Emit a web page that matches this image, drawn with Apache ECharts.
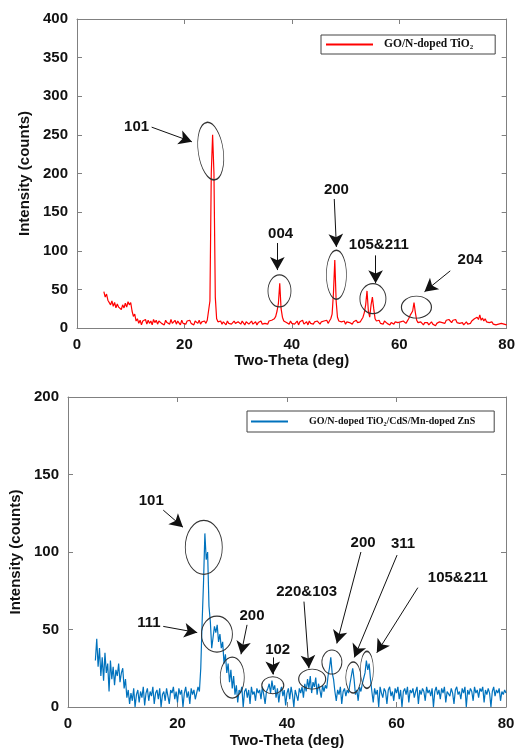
<!DOCTYPE html>
<html>
<head>
<meta charset="utf-8">
<script src="https://cdn.jsdelivr.net/npm/echarts@6/dist/echarts.min.js"></script>
<style>
html,body{margin:0;padding:0;background:#fff;}
#c{width:518px;height:750px;}
</style>
</head>
<body>
<div id="c"></div>
<script>
// ---- Data (2θ scan grid: start 5°, step 0.25°) ----
const twoThetaStart = 5;
const twoThetaStep = 0.25;
const xTicks = [0, 20, 40, 60, 80];
const yTicksTop = [0, 50, 100, 150, 200, 250, 300, 350, 400];
const yTicksBottom = [0, 50, 100, 150, 200];

const seriesNameTop = 'GO/N-doped TiO\u2082';
const seriesNameBottom = 'GO/N-doped TiO\u2082/CdS/Mn-doped ZnS';

const intensityTiO2 = [
  47, 40, 44, 36, 38, 30, 35, 28, 33, 26, 31, 27, 29, 24, 30, 26, 32, 27, 34, 30,
  33, 22, 15, 18, 9, 12, 6, 10, 4, 9, 7, 11, 5, 10, 6, 9, 4, 11, 7, 10,
  5, 9, 11, 6, 8, 4, 10, 7, 9, 5, 11, 6, 8, 10, 5, 9, 7, 4, 10, 6,
  8, 5, 9, 7, 10, 6, 8, 4, 9, 7, 6, 10, 5, 8, 7, 9, 6, 10, 8, 35,
  200, 250, 200, 40, 12, 8, 6, 9, 5, 8, 7, 4, 9, 6, 8, 5, 7, 9, 6, 4,
  8, 6, 5, 9, 7, 4, 8, 6, 5, 7, 9, 5, 6, 8, 4, 7, 6, 9, 5, 7,
  6, 8, 5, 9, 7, 10, 8, 12, 15, 22, 32, 58, 25, 14, 9, 11, 7, 8, 5, 9,
  6, 8, 5, 7, 9, 4, 8, 6, 10, 5, 7, 8, 4, 9, 6, 7, 5, 8, 6, 9,
  7, 5, 8, 6, 9, 7, 10, 6, 9, 12, 18, 45, 88, 35, 14, 9, 7, 8, 6, 9,
  5, 8, 6, 7, 9, 5, 8, 6, 10, 7, 9, 8, 10, 14, 20, 30, 48, 22, 14, 30,
  40, 25, 12, 9, 7, 10, 6, 8, 5, 9, 7, 6, 8, 4, 7, 9, 5, 8, 6, 7,
  5, 8, 6, 9, 7, 6, 8, 12, 16, 14, 22, 33, 20, 10, 7, 5, 8, 6, 4, 7,
  5, 7, 4, 6, 8, 5, 7, 3, 6, 5, 8, 6, 7, 9, 6, 10, 8, 11, 9, 7,
  10, 8, 11, 7, 9, 6, 5, 7, 4, 6, 8, 5, 7, 6, 9, 8, 12, 10, 14, 11,
  17, 10, 13, 9, 12, 8, 10, 7, 6, 8, 5, 7, 4, 6, 5, 3, 6, 4, 5, 3,
  4
];

const intensityComposite = [
  30, 44, 26, 38, 20, 32, 17, 35, 22, 28, 10, 30, 18, 26, 14, 24, 20, 28, 16, 22,
  25, 12, 18, 6, 11, 2, 9, 4, 12, 0, 8, 11, 3, 10, 6, 13, 1, 9, 12, 4,
  10, 7, 13, 2, 9, 11, 5, 12, 0, 8, 10, 4, 12, 7, 2, 11, 9, 13, 5, 10,
  3, 12, 8, 11, 0, 9, 13, 6, 10, 2, 12, 8, 11, 5, 9, 13, 10, 25, 55, 80,
  112, 95, 100, 65, 55, 38, 45, 52, 48, 53, 42, 47, 38, 42, 28, 34, 22, 28, 16, 24,
  12, 20, 8, 14, 3, 11, 9, 13, 0, 10, 12, 6, 11, 2, 13, 8, 10, 4, 12, 9,
  11, 5, 13, 8, 2, 10, 12, 15, 9, 17, 11, 14, 6, 12, 3, 10, 13, 7, 11, 1,
  9, 12, 5, 13, 8, 0, 11, 10, 4, 12, 9, 13, 6, 15, 10, 18, 12, 20, 9, 16,
  13, 19, 8, 15, 11, 6, 14, 10, 14, 12, 20, 25, 32, 22, 18, 10, 4, 11, 8, 13,
  2, 10, 12, 7, 11, 9, 15, 20, 25, 18, 8, 11, 4, 13, 10, 15, 14, 22, 30, 24,
  28, 18, 10, 3, 12, 8, 11, 0, 13, 9, 6, 12, 10, 2, 11, 13, 7, 10, 4, 12,
  9, 13, 5, 11, 0, 10, 12, 8, 13, 3, 11, 9, 12, 6, 10, 13, 2, 11, 8, 12,
  10, 4, 13, 9, 11, 7, 12, 0, 10, 13, 8, 11, 5, 12, 9, 13, 3, 10, 11, 7,
  12, 9, 2, 11, 13, 8, 10, 5, 12, 9, 13, 0, 11, 8, 12, 10, 4, 13, 9, 11,
  6, 12, 10, 13, 3, 11, 8, 12, 9, 0, 10, 13, 7, 11, 9, 12, 4, 10, 8, 11,
  9
];

// ---- Peak annotations (data coordinates) ----
const topLabels = [['101', 11.1, 260], ['004', 37.9, 122], ['200', 48.3, 179], ['105&211', 56.2, 107], ['204', 73.2, 88]];
const topEllipses = [[24.9, 229, 25, 58, 8], [37.7, 48, 23, 32, 0], [48.3, 69, 20, 49, 0], [55.1, 38, 26, 30, 0], [63.2, 27, 30, 22, 0]];
const topArrows = [[[13.9, 260], [21.4, 241]], [[37.3, 110], [37.3, 75]], [[47.9, 167], [48.3, 105]], [[55.6, 94], [55.6, 58]], [[69.5, 74], [64.7, 47]]];

const bottomLabels = [['101', 15.2, 133], ['111', 14.8, 54], ['200', 33.6, 59], ['102', 38.3, 37], ['220&103', 43.6, 74], ['200', 53.9, 106], ['311', 61.2, 105], ['105&211', 71.2, 83]];
const bottomEllipses = [[24.8, 103, 37, 54, 0], [27.2, 47, 31, 36, 0], [30.0, 19, 24, 41, 0], [37.4, 14, 22, 17, 0], [44.6, 18, 27, 20, 0], [48.2, 29, 20, 24, 0], [52.1, 19, 15, 31, 0], [54.6, 24, 13, 37, 0]];
const bottomArrows = [[[17.4, 127], [21.0, 116]], [[17.4, 52], [23.6, 48]], [[32.7, 53], [31.6, 34]], [[37.4, 32], [37.4, 21]], [[43.1, 68], [44.0, 25]], [[53.5, 100], [49.1, 41]], [[60.1, 98], [52.3, 32]], [[63.9, 77], [56.4, 35]]];

// ---- Build chart ----
const toPairs = arr => arr.map((v, i) => [twoThetaStart + i * twoThetaStep, v]);
const ELLIPSE = 'path://M50,0 C77.6,0 100,22.4 100,50 C100,77.6 77.6,100 50,100 C22.4,100 0,77.6 0,50 C0,22.4 22.4,0 50,0 Z';
const SANS = '"Liberation Sans", Arial, Helvetica, sans-serif';
const SERIF = '"Liberation Serif", "Times New Roman", serif';
const AXIS_COLOR = '#808080';

function markPoints(labels, ellipses) {
  const d = [];
  ellipses.forEach(e => d.push({
    coord: [e[0], e[1]], symbol: ELLIPSE, symbolSize: [e[2], e[3]], symbolRotate: e[4],
    itemStyle: { color: 'rgba(0,0,0,0)', borderColor: '#333', borderWidth: 1 },
    label: { show: false }
  }));
  labels.forEach(l => d.push({
    coord: [l[1], l[2]], symbol: 'circle', symbolSize: 1,
    itemStyle: { color: 'rgba(0,0,0,0)' },
    label: { show: true, position: 'inside', formatter: l[0], color: '#111', fontFamily: SANS, fontWeight: 'bold', fontSize: 15 }
  }));
  return { silent: true, animation: false, data: d };
}
function markLines(arrows) {
  return {
    silent: true, animation: false, symbol: ['none', 'arrow'], symbolSize: [11, 13],
    lineStyle: { color: '#111', width: 1, type: 'solid' },
    label: { show: false },
    data: arrows.map(a => [{ coord: a[0] }, { coord: a[1] }])
  };
}

const tickStyle = { show: true, inside: true, length: 5, lineStyle: { color: AXIS_COLOR } };
const lineStyleAxis = { show: true, onZero: false, lineStyle: { color: AXIS_COLOR, width: 1 } };

function xAxes(gridIndex, nameGap) {
  return [{
    gridIndex, type: 'value', min: 0, max: 80, interval: 20, position: 'bottom',
    name: 'Two-Theta (deg)', nameLocation: 'middle', nameGap,
    nameTextStyle: { fontFamily: SANS, fontWeight: 'bold', fontSize: 15, color: '#111' },
    axisLine: lineStyleAxis, axisTick: tickStyle,
    axisLabel: { fontFamily: SANS, fontWeight: 'bold', fontSize: 15, color: '#111', margin: 9,
      formatter: v => xTicks.includes(v) ? String(v) : '' },
    splitLine: { show: false }
  }, {
    gridIndex, type: 'value', min: 0, max: 80, interval: 20, position: 'top',
    axisLine: lineStyleAxis, axisTick: tickStyle,
    axisLabel: { show: false }, splitLine: { show: false }
  }];
}
function yAxes(gridIndex, max, nameGap, ticks) {
  return [{
    gridIndex, type: 'value', min: 0, max, interval: 50, position: 'left',
    name: 'Intensity (counts)', nameLocation: 'middle', nameGap,
    nameTextStyle: { fontFamily: SANS, fontWeight: 'bold', fontSize: 15, color: '#111' },
    axisLine: lineStyleAxis, axisTick: tickStyle,
    axisLabel: { fontFamily: SANS, fontWeight: 'bold', fontSize: 15, color: '#111', margin: 9,
      formatter: v => ticks.includes(v) ? String(v) : '' },
    splitLine: { show: false }
  }, {
    gridIndex, type: 'value', min: 0, max, interval: 50, position: 'right',
    axisLine: lineStyleAxis, axisTick: tickStyle,
    axisLabel: { show: false }, splitLine: { show: false }
  }];
}

const chart = echarts.init(document.getElementById('c'), null, { renderer: 'canvas' });
chart.setOption({
  animation: false,
  backgroundColor: '#fff',
  grid: [
    { left: 77, top: 19, width: 433, height: 309 },
    { left: 68, top: 397, width: 438, height: 310 }
  ],
  legend: [
    {
      data: [{ name: seriesNameTop, icon: 'rect' }], left: 321, top: 35, orient: 'horizontal',
      itemWidth: 47, itemHeight: 2, padding: [3, 22, 3, 5],
      borderColor: '#444', borderWidth: 1, backgroundColor: '#fff',
      selectedMode: false,
      textStyle: { fontFamily: SERIF, fontWeight: 'bold', fontSize: 11.5, lineHeight: 13, color: '#111', padding: [0, 0, 0, 6] }
    },
    {
      data: [{ name: seriesNameBottom, icon: 'rect' }], left: 247, top: 411, orient: 'horizontal',
      itemWidth: 37, itemHeight: 2, padding: [4, 19, 4, 4],
      borderColor: '#444', borderWidth: 1, backgroundColor: '#fff',
      selectedMode: false,
      textStyle: { fontFamily: SERIF, fontWeight: 'bold', fontSize: 10, lineHeight: 13, color: '#111', padding: [0, 0, 0, 16] }
    }
  ],
  xAxis: [...xAxes(0, 24), ...xAxes(1, 26)],
  yAxis: [...yAxes(0, 400, 41, yTicksTop), ...yAxes(1, 200, 42, yTicksBottom)],
  series: [
    {
      name: seriesNameTop, type: 'line', xAxisIndex: 0, yAxisIndex: 0,
      data: toPairs(intensityTiO2), symbol: 'none', showSymbol: false,
      lineStyle: { color: '#ff0000', width: 1.2 }, itemStyle: { color: '#ff0000' },
      markPoint: markPoints(topLabels, topEllipses),
      markLine: markLines(topArrows)
    },
    {
      name: seriesNameBottom, type: 'line', xAxisIndex: 2, yAxisIndex: 2,
      data: toPairs(intensityComposite), symbol: 'none', showSymbol: false,
      lineStyle: { color: '#0072BD', width: 1.2 }, itemStyle: { color: '#0072BD' },
      markPoint: markPoints(bottomLabels, bottomEllipses),
      markLine: markLines(bottomArrows)
    }
  ]
});
</script>
</body>
</html>
